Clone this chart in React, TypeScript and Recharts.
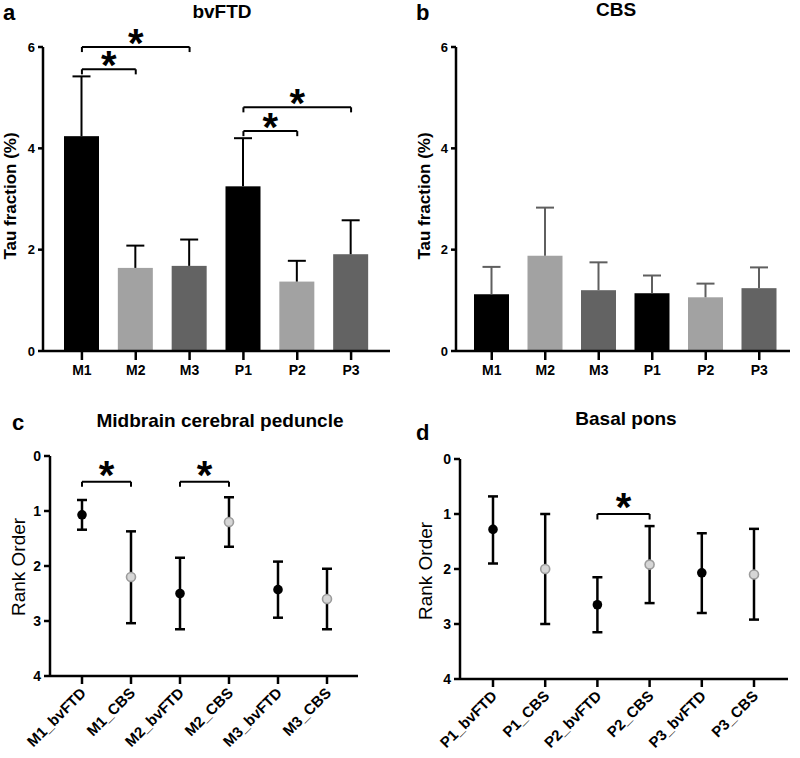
import React from 'react'
import { Bar, BarChart, ComposedChart, ErrorBar, Line, ReferenceLine, XAxis, YAxis } from 'recharts'

const FONT = '"Liberation Sans", Arial, sans-serif'

// panels a and b: tau fraction per region
const regions = ['M1', 'M2', 'M3', 'P1', 'P2', 'P3']
const bvftdMean = [4.24, 1.64, 1.68, 3.25, 1.37, 1.91]
const bvftdUpper = [5.42, 2.08, 2.2, 4.2, 1.78, 2.58]
const cbsMean = [1.12, 1.88, 1.2, 1.14, 1.06, 1.24]
const cbsUpper = [1.66, 2.83, 1.75, 1.49, 1.33, 1.65]
const barColors = ['#000000', '#a2a2a2', '#636363', '#000000', '#a2a2a2', '#636363']
const tauTicks = [0, 2, 4, 6]

// panels c and d: rank order
const midbrainGroups = ['M1_bvFTD', 'M1_CBS', 'M2_bvFTD', 'M2_CBS', 'M3_bvFTD', 'M3_CBS']
const midbrainMean = [1.07, 2.2, 2.5, 1.2, 2.43, 2.6]
const midbrainLow = [0.8, 1.37, 1.85, 0.75, 1.92, 2.05]
const midbrainHigh = [1.34, 3.04, 3.15, 1.65, 2.94, 3.15]

const ponsGroups = ['P1_bvFTD', 'P1_CBS', 'P2_bvFTD', 'P2_CBS', 'P3_bvFTD', 'P3_CBS']
const ponsMean = [1.28, 2.0, 2.65, 1.92, 2.07, 2.1]
const ponsLow = [0.68, 1.0, 2.15, 1.22, 1.35, 1.27]
const ponsHigh = [1.9, 3.0, 3.15, 2.62, 2.8, 2.92]
const rankTicks = [0, 1, 2, 3, 4]

const barRows = (means: number[], uppers: number[], errColor: string) =>
  regions.map((name, i) => ({ name, value: means[i], upper: uppers[i], color: barColors[i], errColor }))

const rankRows = (groups: string[], mean: number[], low: number[], high: number[]) =>
  groups.map((name, i) => ({ name, mean: mean[i], err: [mean[i] - low[i], high[i] - mean[i]] }))

const bvftdData = barRows(bvftdMean, bvftdUpper, '#000000')
const cbsData = barRows(cbsMean, cbsUpper, '#5f5f5f')
const midbrainData = rankRows(midbrainGroups, midbrainMean, midbrainLow, midbrainHigh)
const ponsData = rankRows(ponsGroups, ponsMean, ponsLow, ponsHigh)

// bar + upper-only error whisker (GraphPad style)
function BarWithError(props: any) {
  const { x, y, width, height, payload } = props
  const perUnit = height / payload.value
  const top = y - (payload.upper - payload.value) * perUnit
  const cx = x + width / 2
  return (
    <g>
      <rect x={x} y={y} width={width} height={height} fill={payload.color} />
      <line x1={cx} y1={y} x2={cx} y2={top} stroke={payload.errColor} strokeWidth={2} />
      <line x1={cx - 9} y1={top} x2={cx + 9} y2={top} stroke={payload.errColor} strokeWidth={2} />
    </g>
  )
}

function RankDot(props: any) {
  const { cx, cy, payload } = props
  if (cx == null || cy == null) return null
  if (payload.name.endsWith('bvFTD')) return <circle cx={cx} cy={cy} r={4.8} fill="#000" />
  return <circle cx={cx} cy={cy} r={4.5} fill="#d6d6d6" stroke="#9c9c9c" strokeWidth={1.6} />
}

function StarLabel(props: any) {
  const { viewBox, dy } = props
  return (
    <text x={viewBox.x + viewBox.width / 2} y={viewBox.y + dy} textAnchor="middle"
      fontSize={40} fontWeight="bold" fontFamily={FONT} fill="#000">*</text>
  )
}

// significance bracket: horizontal bar with end ticks and a star
function bracket(key: string, a: string, b: string, y: number, drop: number, dy: number) {
  const st = { stroke: '#000', strokeWidth: 2 }
  return [
    <ReferenceLine key={key + 'h'} segment={[{ x: a, y }, { x: b, y }]} {...st} ifOverflow="visible"
      label={<StarLabel dy={dy} />} />,
    <ReferenceLine key={key + 'l'} segment={[{ x: a, y }, { x: a, y: y + drop }]} {...st} ifOverflow="visible" />,
    <ReferenceLine key={key + 'r'} segment={[{ x: b, y }, { x: b, y: y + drop }]} {...st} ifOverflow="visible" />,
  ]
}

const axisStyle = { stroke: '#000', strokeWidth: 2.5 }
const boldTick = { fontSize: 14, fontWeight: 'bold', fill: '#000', fontFamily: FONT }

function RotTick(props: any) {
  const { x, y, payload } = props
  return (
    <g transform={`translate(${x + 5},${y + 8}) rotate(-45)`}>
      <text x={0} y={0} textAnchor="end" fontSize={15} fontWeight="bold" fontFamily={FONT} fill="#000">
        {payload.value}
      </text>
    </g>
  )
}

function TauChart({ data, yWidth, padding, right, children }: any) {
  return (
    <BarChart width={400} height={380} data={data} barSize={35}
      margin={{ top: 47, right, left: 0, bottom: 0 }}>
      <XAxis dataKey="name" interval={0} height={29} padding={padding} tickSize={9} tickMargin={5}
        axisLine={axisStyle} tickLine={axisStyle} tick={boldTick} />
      <YAxis domain={[0, 6]} ticks={tauTicks} width={yWidth} tickSize={5} tickMargin={3}
        axisLine={axisStyle} tickLine={axisStyle} tick={{ ...boldTick, fontSize: 13 }} />
      <Bar dataKey="value" shape={<BarWithError />} isAnimationActive={false} />
      {children}
    </BarChart>
  )
}

// no bars here, so the category axis is a point scale: padding puts the first/last points in place
function RankChart({ data, yWidth, top, right, padding, children }: any) {
  return (
    <ComposedChart width={400} height={378} data={data}
      margin={{ top, right, left: 0, bottom: 0 }}>
      <XAxis dataKey="name" interval={0} height={378 - top - 220} padding={padding} tickSize={8}
        axisLine={axisStyle} tickLine={axisStyle} tick={<RotTick />} />
      <YAxis reversed domain={[0, 4]} ticks={rankTicks} width={yWidth} tickSize={6} tickMargin={3}
        axisLine={axisStyle} tickLine={axisStyle} tick={boldTick} />
      <Line dataKey="mean" stroke="none" dot={<RankDot />} activeDot={false} isAnimationActive={false}>
        <ErrorBar dataKey="err" width={5} stroke="#000" strokeWidth={2.5} />
      </Line>
      {children}
    </ComposedChart>
  )
}

const textBase = { fontFamily: FONT, fill: '#000' }

const css = `
.recharts-cartesian-axis-line, .recharts-cartesian-axis-tick-line { stroke: #000; stroke-width: 2.5px; }
`

export default function App() {
  return (
    <div style={{ position: 'absolute', left: 0, top: 0, width: 800, height: 758, background: '#fff' }}>
      <style>{css}</style>
      <div style={{ position: 'absolute', left: 0, top: 0 }}>
        <TauChart data={bvftdData} yWidth={43} right={10} padding={{ left: 12, right: 12 }}>
          {bracket('a1', 'M1', 'M3', 6, -0.1, 10)}
          {bracket('a2', 'M1', 'M2', 5.56, -0.1, 10)}
          {bracket('a3', 'P1', 'P3', 4.81, -0.1, 10)}
          {bracket('a4', 'P1', 'P2', 4.34, -0.1, 10)}
        </TauChart>
      </div>
      <div style={{ position: 'absolute', left: 400, top: 0 }}>
        <TauChart data={cbsData} yWidth={56} right={10} padding={{ left: 9, right: 4 }} />
      </div>
      <div style={{ position: 'absolute', left: 0, top: 380 }}>
        <RankChart data={midbrainData} yWidth={50} top={76} right={42} padding={{ left: 32, right: 31 }}>
          {bracket('c1', 'M1_bvFTD', 'M1_CBS', 0.47, 0.09, 7)}
          {bracket('c2', 'M2_bvFTD', 'M2_CBS', 0.47, 0.09, 7)}
        </RankChart>
      </div>
      <div style={{ position: 'absolute', left: 400, top: 380 }}>
        <RankChart data={ponsData} yWidth={60} top={79} right={12} padding={{ left: 33, right: 34 }}>
          {bracket('d1', 'P2_bvFTD', 'P2_CBS', 1.0, 0.1, 7)}
        </RankChart>
      </div>
      <svg width={800} height={758} style={{ position: 'absolute', left: 0, top: 0, pointerEvents: 'none' }}>
        <text x={3} y={20} fontSize={22} fontWeight="bold" {...textBase}>a</text>
        <text x={416} y={20} fontSize={22} fontWeight="bold" {...textBase}>b</text>
        <text x={12} y={430} fontSize={22} fontWeight="bold" {...textBase}>c</text>
        <text x={416} y={440} fontSize={22} fontWeight="bold" {...textBase}>d</text>

        <text x={222} y={18} textAnchor="middle" fontSize={19} fontWeight="bold" {...textBase}>bvFTD</text>
        <text x={616} y={16} textAnchor="middle" fontSize={19} fontWeight="bold" {...textBase}>CBS</text>
        <text x={220} y={427} textAnchor="middle" fontSize={19} fontWeight="bold" {...textBase}>Midbrain cerebral peduncle</text>
        <text x={626} y={425} textAnchor="middle" fontSize={19} fontWeight="bold" {...textBase}>Basal pons</text>

        <text x={0} y={0} transform="translate(16,196) rotate(-90)" textAnchor="middle" fontSize={17} fontWeight="bold" {...textBase}>Tau fraction (%)</text>
        <text x={0} y={0} transform="translate(430,196) rotate(-90)" textAnchor="middle" fontSize={17} fontWeight="bold" {...textBase}>Tau fraction (%)</text>
        <text x={0} y={0} transform="translate(25,567) rotate(-90)" textAnchor="middle" fontSize={19} {...textBase}>Rank Order</text>
        <text x={0} y={0} transform="translate(432,571) rotate(-90)" textAnchor="middle" fontSize={19} {...textBase}>Rank Order</text>
      </svg>
    </div>
  )
}
